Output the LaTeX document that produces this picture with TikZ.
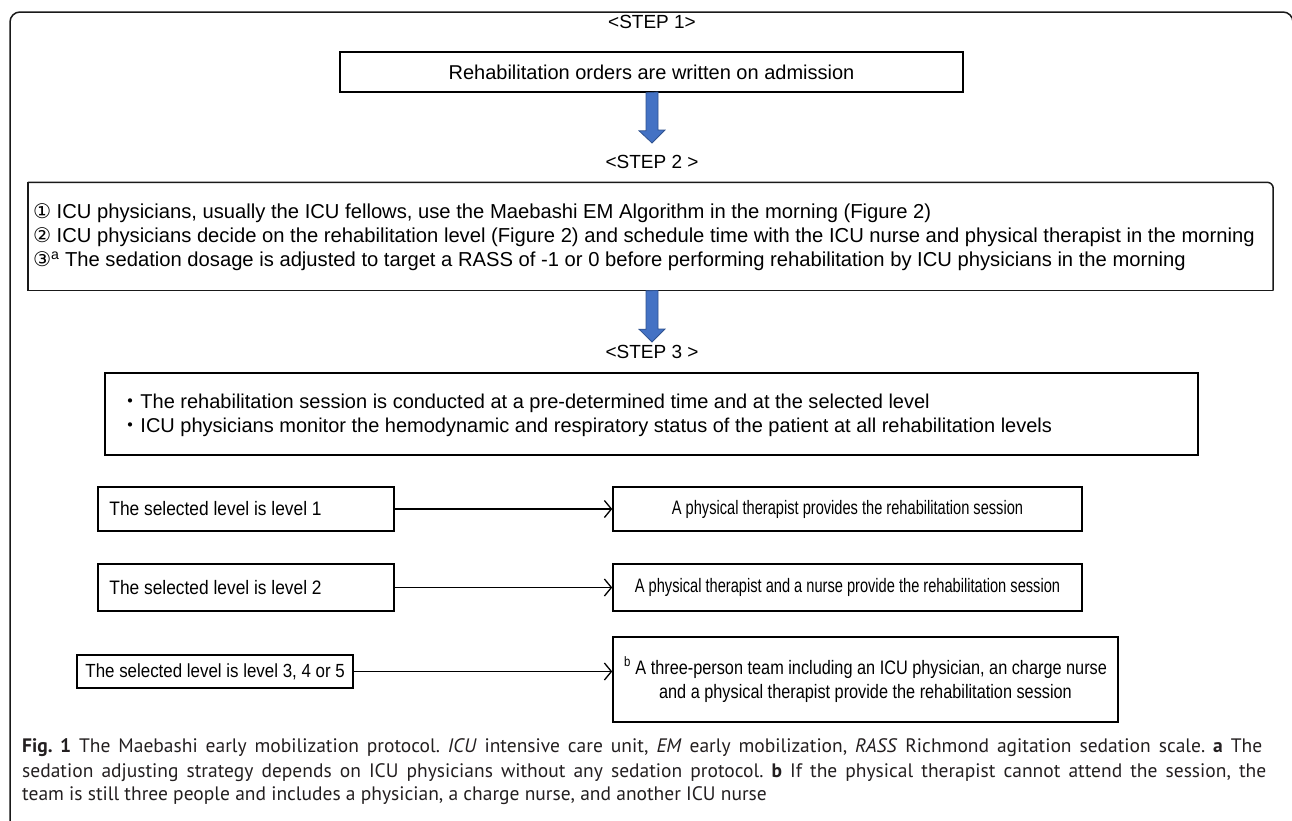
\documentclass[tikz,border=0pt]{standalone}
\usepackage{fontspec}
\setmainfont{Liberation Sans}
\newfontfamily\leftsf[FakeStretch=0.89]{Liberation Sans}
\newfontfamily\lthreesf[FakeStretch=0.89]{Liberation Sans}
\newfontfamily\narrowsf[FakeStretch=0.75]{Liberation Sans}
\newfontfamily\rthreesf[FakeStretch=0.835]{Liberation Sans}
\newfontfamily\symfont{DejaVu Sans}
\newfontfamily\cjk{Noto Sans CJK JP}
\newfontfamily\capfont{PT Sans}
\usetikzlibrary{arrows.meta,calc}
\definecolor{arrowblue}{HTML}{4472C4}
\definecolor{arrowedge}{HTML}{2F528F}
\definecolor{capgray}{HTML}{231F20}
\frenchspacing
\begin{document}
\begin{tikzpicture}[x=1pt,y=-1pt,
  txt/.style={font=\fontsize{20}{24}\selectfont, inner sep=0pt},
  box/.style={draw=black, line width=1.5pt, inner sep=0pt, font=\fontsize{20}{24}\selectfont},
  lefttxt/.style={anchor=west, inner sep=0pt, font=\leftsf\fontsize{19.5}{24}\selectfont},
  rightbox/.style={box, font=\narrowsf\fontsize{19.5}{24}\selectfont},
  flow/.style={-{Straight Barb[length=7pt,width=17pt,line width=1.3pt]}, line width=1.4pt},
  steplbl/.style={inner sep=0pt, font=\fontsize{19}{23}\selectfont},
  bigarrow/.style={fill=arrowblue, draw=arrowedge, line width=0.8pt},
  captxt/.style={anchor=base west, inner sep=0pt, font=\capfont\fontsize{19.5}{24}\selectfont, text=capgray},
  frame/.style={draw=black!90, line width=1.5pt}]
\useasboundingbox (0,0) rectangle (1292,820);

% outer frame
\draw[frame, rounded corners=10pt] (10,830) -- (10,12) -- (1293,12) -- (1293,830);

% STEP 1
\node[steplbl, fill=white, inner xsep=4pt, inner ysep=1pt] (s1) at (652,22) {<STEP 1>};
\node[box, minimum width=623pt, minimum height=40pt] (b1) at (651.5,72) {Rehabilitation orders are written on admission};

% arrow 1
\coordinate (t1) at (652,143);
\draw[bigarrow] (b1.south -| t1) ++(-6,0) -- ++(0,38) -- ++(-7,0) -- (t1) -- ++(13,-13) -- ++(-7,0) -- ++(0,-38) -- cycle;

% STEP 2
\node[steplbl] (s2) at (652,162) {<STEP 2 >};
\node[minimum width=1245pt, minimum height=108pt, inner sep=0pt] (b2) at (650.5,236.5) {};
\draw[frame, rounded corners=6pt] (b2.south east) -- (b2.north east) -- (b2.north west);
\draw[frame] (b2.north west) -- (b2.south west) -- (b2.south east);
\node[txt, anchor=west, align=left, font=\fontsize{20.2}{24}\selectfont] (b2t) at ($(b2.west)+(5,1)$) {%
{\symfont ①} ICU physicians, usually the ICU fellows, use the Maebashi EM Algorithm in the morning (Figure 2)\\
{\symfont ②} ICU physicians decide on the rehabilitation level (Figure 2) and schedule time with the ICU nurse and physical therapist in the morning\\
{\symfont ③}\textsuperscript{a} The sedation dosage is adjusted to target a RASS of -1 or 0 before performing rehabilitation by ICU physicians in the morning};

% arrow 2
\coordinate (t2) at (652,342);
\draw[bigarrow] (b2.south -| t2) ++(-6,0) -- ++(0,38.5) -- ++(-7,0) -- (t2) -- ++(13,-13) -- ++(-7,0) -- ++(0,-38.5) -- cycle;

% STEP 3
\node[steplbl] (s3) at (652,352) {<STEP 3 >};
\node[box, minimum width=1093pt, minimum height=82pt] (b3) at (651.5,414) {};
\node[txt, anchor=west, align=left] (b3t) at ($(b3.west)+(16,1)$) {%
{\cjk ・}The rehabilitation session is conducted at a pre-determined time and at the selected level\\
{\cjk ・}ICU physicians monitor the hemodynamic and respiratory status of the patient at all rehabilitation levels};

% levels
\node[box, minimum width=296pt, minimum height=44pt] (l1) at (246,509) {};
\node[lefttxt] (l1t) at ($(l1.west)+(12,0)$) {The selected level is level 1};
\node[box, minimum width=296pt, minimum height=47pt] (l2) at (246,587.5) {};
\node[lefttxt] (l2t) at ($(l2.west)+(12,0)$) {The selected level is level 2};
\node[box, minimum width=276pt, minimum height=33pt] (l3) at (215,671.5) {};
\node[lefttxt, font=\lthreesf\fontsize{19}{24}\selectfont] (l3t) at ($(l3.west)+(9,0)$) {The selected level is level 3, 4 or 5};

\node[rightbox, minimum width=469pt, minimum height=44pt] (r1) at (847.5,509) {A physical therapist provides the rehabilitation session};
\node[rightbox, minimum width=469pt, minimum height=47pt] (r2) at (847.5,587.5) {A physical therapist and a nurse provide the rehabilitation session};
\node[rightbox, minimum width=505pt, minimum height=85pt, align=center, font=\rthreesf\fontsize{19.5}{24}\selectfont] (r3) at (865.5,679.5) {%
\textsuperscript{b} A three-person team including an ICU physician, an charge nurse\\
and a physical therapist provide the rehabilitation session};

\draw[flow] (l1.east) -- (r1.west);
\draw[flow] (l2.east) -- (r2.west);
\draw[flow] (l3.east) -- (l3.east -| r3.west);

% caption
\node[captxt] (c1) at (22,752.5) {\hbox to 1240pt{\textbf{Fig. 1} The Maebashi early mobilization protocol. \textit{ICU} intensive care unit, \textit{EM} early mobilization, \textit{RASS} Richmond agitation sedation scale. \textbf{a} The}};
\node[captxt] (c2) at (22,777.5) {\hbox to 1244pt{sedation adjusting strategy depends on ICU physicians without any sedation protocol. \textbf{b} If the physical therapist cannot attend the session, the}};
\node[captxt] (c3) at (22,800.5) {team is still three people and includes a physician, a charge nurse, and another ICU nurse};
\end{tikzpicture}
\end{document}
